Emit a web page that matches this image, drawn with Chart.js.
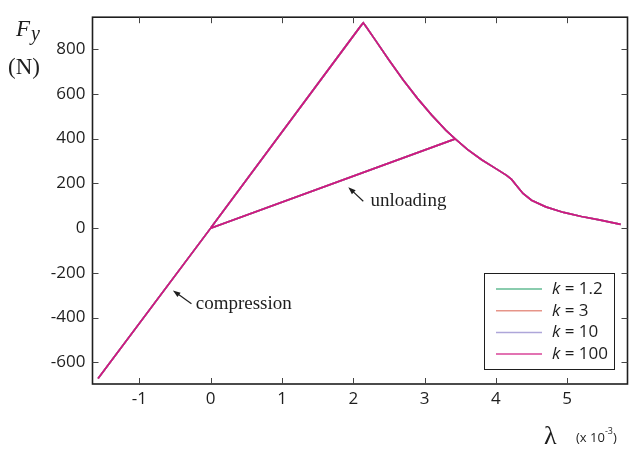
<!DOCTYPE html>
<html>
<head>
<meta charset="utf-8">
<script src="https://cdn.jsdelivr.net/npm/chart.js@4.4.1/dist/chart.umd.min.js"></script>
<style>
  html, body { margin: 0; padding: 0; background: #fff; }
  #wrap { width: 629px; height: 449px; }
</style>
</head>
<body>
<div id="wrap"><canvas id="fyChart" width="629" height="449"></canvas></div>
<script>
// values: lambda in units of 1e-3, Fy in N
const kLabels = ["1.2", "3", "10", "100"];
const kColors = ["#3daa78", "#e07a6c", "#9a90d0", "#d0167f"];

// load to peak, softening, unload to 0, compress, reload, continue softening
const lambdaPath = [0, 2.10, 2.14, 2.18, 2.30, 2.50, 2.70, 2.90, 3.10, 3.30, 3.43,
  0, -1.58, 0, 3.43, 3.60, 3.80, 4.00, 4.15, 4.22, 4.30, 4.38, 4.50, 4.70, 4.95, 5.20, 5.45, 5.75];
const forcePath = [0, 902, 918, 900, 845, 752, 662, 580, 505, 437, 399,
  0, -672, 0, 399, 352, 306, 266, 236, 218, 186, 155, 125, 95, 70, 52, 37, 17];

const xTicks = [-1, 0, 1, 2, 3, 4, 5];
const yTicks = [-600, -400, -200, 0, 200, 400, 600, 800];

const notes = [
  { text: "unloading", tip: [1.93, 183], tail: [2.14, 120], at: [2.24, 99] },
  { text: "compression", tip: [-0.53, -279], tail: [-0.27, -338], at: [-0.21, -362] }
];

const tickFont = { family: "'Open Sans'", size: 17 };

const framePlugin = {
  id: "frame",
  afterDatasetsDraw(chart) {
    const { ctx, chartArea: a, scales: { x, y } } = chart;
    ctx.save();
    ctx.strokeStyle = "#1e1e1e";
    ctx.lineWidth = 1.6;
    ctx.strokeRect(a.left, a.top, a.right - a.left, a.bottom - a.top);

    // inward tick marks on all four sides
    ctx.lineWidth = 1;
    ctx.strokeStyle = "#444";
    ctx.beginPath();
    xTicks.forEach(v => {
      const px = Math.round(x.getPixelForValue(v)) + 0.5;
      ctx.moveTo(px, a.bottom); ctx.lineTo(px, a.bottom - 6);
      ctx.moveTo(px, a.top); ctx.lineTo(px, a.top + 6);
    });
    yTicks.forEach(v => {
      const py = Math.round(y.getPixelForValue(v)) + 0.5;
      ctx.moveTo(a.left, py); ctx.lineTo(a.left + 6, py);
      ctx.moveTo(a.right, py); ctx.lineTo(a.right - 6, py);
    });
    ctx.stroke();

    // annotations with arrows
    ctx.fillStyle = "#1e1e1e";
    ctx.strokeStyle = "#1e1e1e";
    notes.forEach(n => {
      const tx = x.getPixelForValue(n.tip[0]), ty = y.getPixelForValue(n.tip[1]);
      const sx = x.getPixelForValue(n.tail[0]), sy = y.getPixelForValue(n.tail[1]);
      const ang = Math.atan2(ty - sy, tx - sx);
      ctx.lineWidth = 1.2;
      ctx.beginPath();
      ctx.moveTo(sx, sy);
      ctx.lineTo(tx - 4 * Math.cos(ang), ty - 4 * Math.sin(ang));
      ctx.stroke();
      ctx.beginPath();
      ctx.moveTo(tx, ty);
      ctx.lineTo(tx - 8 * Math.cos(ang - 0.35), ty - 8 * Math.sin(ang - 0.35));
      ctx.lineTo(tx - 8 * Math.cos(ang + 0.35), ty - 8 * Math.sin(ang + 0.35));
      ctx.closePath();
      ctx.fill();
      ctx.font = "19px 'Liberation Serif'";
      ctx.textAlign = "left";
      ctx.textBaseline = "alphabetic";
      ctx.fillText(n.text, x.getPixelForValue(n.at[0]), y.getPixelForValue(n.at[1]));
    });

    // axis titles
    ctx.font = "italic 23px 'Liberation Serif'";
    ctx.fillText("F", 16, 36);
    ctx.font = "italic 20px 'Liberation Serif'";
    ctx.fillText("y", 31, 40);
    ctx.font = "23px 'Liberation Serif'";
    ctx.fillText("(N)", 8, 74);
    ctx.font = "26px 'Liberation Serif'";
    ctx.fillText("\u03bb", 544, 444);
    ctx.font = "13px 'Open Sans'";
    ctx.fillText("(x 10", 576, 442);
    let w = ctx.measureText("(x 10").width;
    ctx.font = "9px 'Open Sans'";
    ctx.fillText("-3", 576 + w, 434);
    let w2 = ctx.measureText("-3").width;
    ctx.font = "13px 'Open Sans'";
    ctx.fillText(")", 576 + w + w2, 442);

    // legend box
    const lg = { left: 484, top: 273, right: 614, bottom: 369 };
    ctx.fillStyle = "#fff";
    ctx.fillRect(lg.left, lg.top, lg.right - lg.left, lg.bottom - lg.top);
    ctx.strokeStyle = "#1e1e1e";
    ctx.lineWidth = 1;
    ctx.strokeRect(lg.left + 0.5, lg.top + 0.5, lg.right - lg.left, lg.bottom - lg.top);
    chart.data.datasets.forEach((ds, i) => {
      const ry = 289 + i * 21.7;
      ctx.globalAlpha = 0.8;
      ctx.strokeStyle = ds.borderColor;
      ctx.lineWidth = 1.5;
      ctx.beginPath();
      ctx.moveTo(496, ry); ctx.lineTo(542, ry);
      ctx.stroke();
      ctx.globalAlpha = 1;
      ctx.fillStyle = "#1e1e1e";
      ctx.textBaseline = "middle";
      ctx.font = "italic 17px 'Open Sans'";
      ctx.fillText("k", 552, ry);
      const kw = ctx.measureText("k").width;
      ctx.font = "17px 'Open Sans'";
      ctx.fillText(" = " + kLabels[i], 552 + kw, ry);
    });
    ctx.restore();
  }
};

const ctx = document.getElementById("fyChart");

new Chart(ctx, {
  type: "scatter",
  data: {
    datasets: kLabels.map((k, i) => ({
      label: "k = " + k,
      data: lambdaPath.map((v, j) => ({ x: v, y: forcePath[j] })),
      showLine: true,
      order: kLabels.length - i,
      borderColor: kColors[i],
      backgroundColor: kColors[i],
      borderWidth: 1.7,
      pointRadius: 0,
      tension: 0,
    })),
  },
  options: {
    responsive: false,
    animation: false,
    layout: { padding: { top: 8, right: 1.5, left: 0, bottom: 0 } },
    plugins: { legend: { display: false }, tooltip: { enabled: false } },
    scales: {
      x: {
        type: "linear",
        min: -1.658,
        max: 5.846,
        afterBuildTicks: s => { s.ticks = xTicks.map(v => ({ value: v })); },
        afterFit: s => { s.height = 65; },
        grid: { display: false, drawTicks: false },
        border: { display: false },
        ticks: { font: tickFont, color: "#1e1e1e", padding: 5, maxRotation: 0, autoSkip: false },
      },
      y: {
        type: "linear",
        min: -697,
        max: 943,
        afterBuildTicks: s => { s.ticks = yTicks.map(v => ({ value: v })); },
        afterFit: s => { s.width = 92.5; },
        grid: { display: false, drawTicks: false },
        border: { display: false },
        ticks: { font: tickFont, color: "#1e1e1e", padding: 7, autoSkip: false },
      },
    },
  },
  plugins: [framePlugin],
});
</script>
</body>
</html>
